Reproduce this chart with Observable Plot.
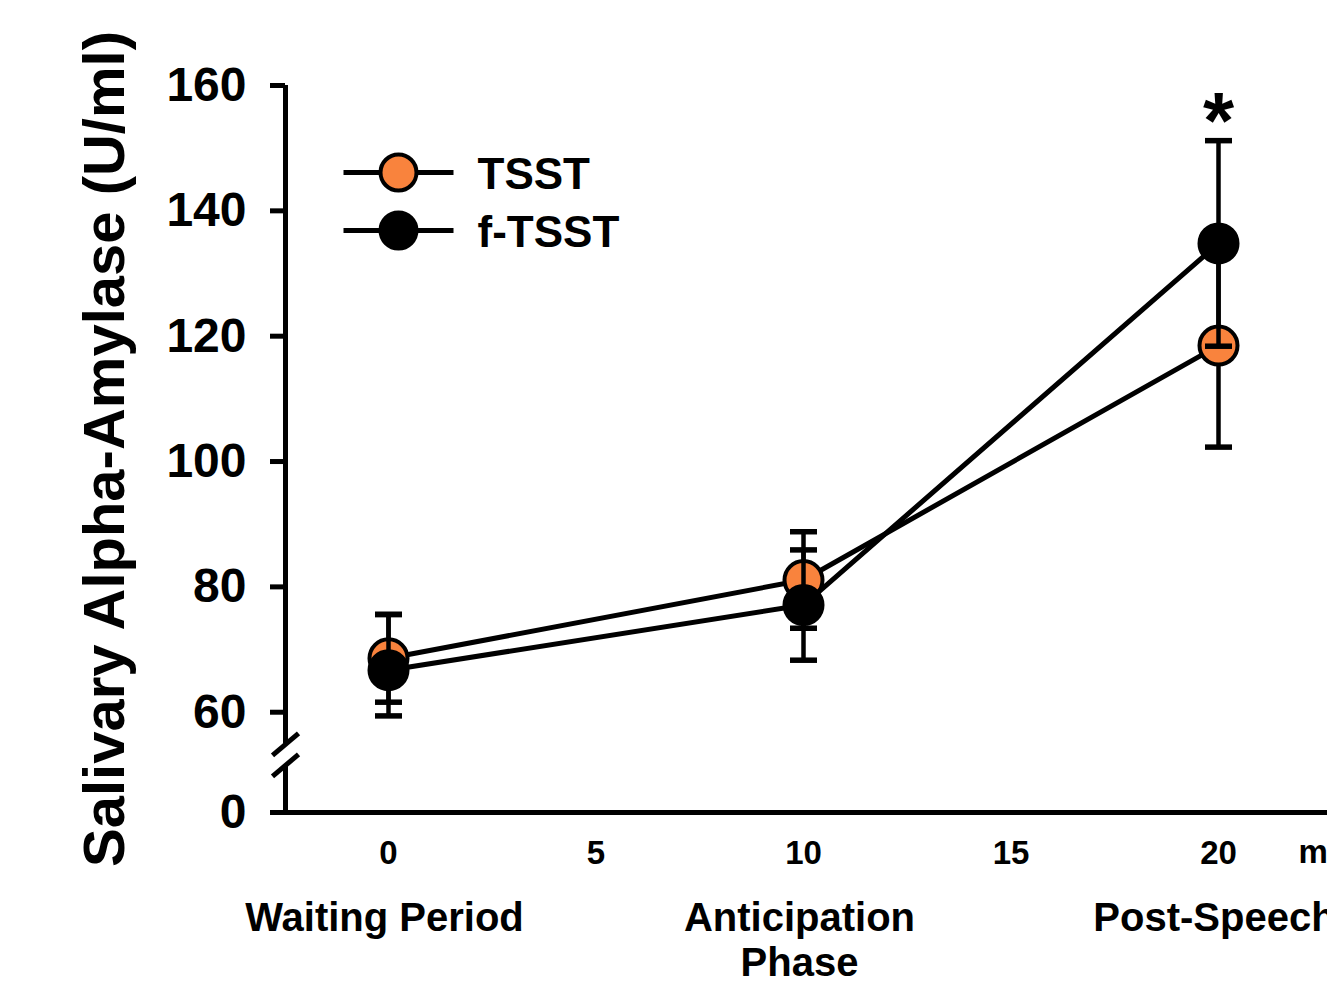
<!DOCTYPE html>
<html><head><meta charset="utf-8">
<script src="https://cdn.jsdelivr.net/npm/d3@7"></script>
<script src="https://cdn.jsdelivr.net/npm/@observablehq/plot@0.6"></script>
<style>html,body{margin:0;padding:0;background:#fff;overflow:hidden}</style>
</head><body><div id="chart"></div>
<script>
// ---- data ----
const timePoints = [0, 10, 20];
const phaseLabels = ["Waiting Period", "Anticipation\nPhase", "Post-Speech"];
const seriesNames = ["TSST", "f-TSST"];
const tsstMean = [68.6, 81.1, 118.5];
const tsstSE = [7.0, 7.7, 16.2];
const ftsstMean = [66.7, 77.1, 134.8];
const ftsstSE = [8.9, 8.8, 16.4];
const xTicks = [0, 5, 10, 15, 20];
const yTicks = [0, 60, 80, 100, 120, 140, 160];
const unitLabel = "min";
const yTitle = "Salivary Alpha-Amylase (U/ml)";
const sigMarks = [{time: 20, label: "*"}];

// ---- styles ----
const colors = {"TSST": "#f9833d", "f-TSST": "#000000"};
const FONT = "Liberation Sans, Arial, Helvetica, sans-serif";

const series = [
  {name: "TSST", mean: tsstMean, se: tsstSE},
  {name: "f-TSST", mean: ftsstMean, se: ftsstSE}
].map(s => ({name: s.name, rows: timePoints.map((t, i) => ({time: t, mean: s.mean[i], lo: s.mean[i] - s.se[i], hi: s.mean[i] + s.se[i]}))}));

const capSym = {draw(ctx) { ctx.moveTo(-13.5, 0); ctx.lineTo(13.5, 0); }};
const legendLine = {draw(ctx) { ctx.moveTo(-55, 0); ctx.lineTo(55, 0); }};
const slashSym = {draw(ctx) { ctx.moveTo(-13, 11); ctx.lineTo(13, -11); }};

// broken y axis: values below 60 are compressed into the gap under the 60 tick
const breakAt = 60, compress = 16 / 60;
const brk = v => v < breakAt ? breakAt - (breakAt - v) * compress : v;

// axis geometry (x position of the y axis, in data units)
const xAxisAt = -103 / 41.5;
const xEnd = 22.7;
const breakLevels = [40.8, 28.2];

const marks = [];
// axes lines with break
marks.push(Plot.ruleX([{a: breakLevels[0], b: 160}, {a: 0, b: breakLevels[1]}], {x: () => xAxisAt, y1: "a", y2: "b", stroke: "black", strokeWidth: 5}));
marks.push(Plot.ruleY([0], {x1: xAxisAt, x2: xEnd, stroke: "black", strokeWidth: 5}));
marks.push(Plot.dot(breakLevels, {x: () => xAxisAt, y: d => d, symbol: slashSym, fill: "none", stroke: "black", strokeWidth: 5}));
marks.push(Plot.axisY(yTicks, {anchor: "left", tickSize: 15, tickPadding: 24, fontSize: 48, fontWeight: "bold", strokeWidth: 5, label: null}));
marks.push(Plot.axisX(xTicks, {anchor: "bottom", tickSize: 0, tickPadding: 28, fontSize: 33, fontWeight: "bold", label: null}));
marks.push(Plot.text([unitLabel], {x: () => 21.93, y: () => 0, dy: 40, textAnchor: "start", lineAnchor: "middle", fontSize: 33, fontWeight: "bold"}));
marks.push(Plot.text(phaseLabels, {x: (d, i) => timePoints[i], frameAnchor: "bottom", dx: -4, dy: 87, lineAnchor: "top", lineHeight: 1.12, fontSize: 40, fontWeight: "bold"}));
marks.push(Plot.text([yTitle], {frameAnchor: "left", textAnchor: "middle", lineAnchor: "middle", rotate: -90, dx: -180, fontSize: 58, fontWeight: "bold"}));

// series
for (const s of series) {
  marks.push(Plot.ruleX(s.rows, {x: "time", y1: "lo", y2: "hi", stroke: "black", strokeWidth: 4.5}));
  marks.push(Plot.dot(s.rows, {x: "time", y: "lo", symbol: capSym, fill: "none", stroke: "black", strokeWidth: 5.5}));
  marks.push(Plot.dot(s.rows, {x: "time", y: "hi", symbol: capSym, fill: "none", stroke: "black", strokeWidth: 5.5}));
  marks.push(Plot.line(s.rows, {x: "time", y: "mean", stroke: "black", strokeWidth: 5}));
  marks.push(Plot.dot(s.rows, {x: "time", y: "mean", r: 19, fill: colors[s.name], stroke: "black", strokeWidth: 4}));
}

// significance asterisk above f-TSST error bar
marks.push(Plot.text(sigMarks, {x: "time", y: d => ftsstMean[timePoints.indexOf(d.time)] + ftsstSE[timePoints.indexOf(d.time)], text: "label", dy: -18, lineAnchor: "middle", fontSize: 80, fontWeight: "bold"}));

// legend
seriesNames.forEach((name, i) => {
  const dy = 87 + i * 58;
  marks.push(Plot.dot([name], {frameAnchor: "top-left", dx: 113, dy, symbol: legendLine, fill: "none", stroke: "black", strokeWidth: 5}));
  marks.push(Plot.dot([name], {frameAnchor: "top-left", dx: 113, dy, r: 18, fill: colors[name], stroke: "black", strokeWidth: 4}));
  marks.push(Plot.text([name], {frameAnchor: "top-left", dx: 192, dy: dy + 2, textAnchor: "start", lineAnchor: "middle", fontSize: 44, fontWeight: "bold"}));
});

const chart = Plot.plot({
  width: 1327,
  height: 995,
  marginLeft: 285,
  marginRight: 0,
  marginTop: 85,
  marginBottom: 183,
  style: {fontFamily: FONT, background: "white", color: "black", overflow: "hidden"},
  x: {domain: [0, 20], range: [388, 1218]},
  y: {type: "linear", transform: brk, domain: [brk(0), 160], range: [812, 85]},
  marks
});
document.getElementById("chart").appendChild(chart);
</script>
</body></html>
